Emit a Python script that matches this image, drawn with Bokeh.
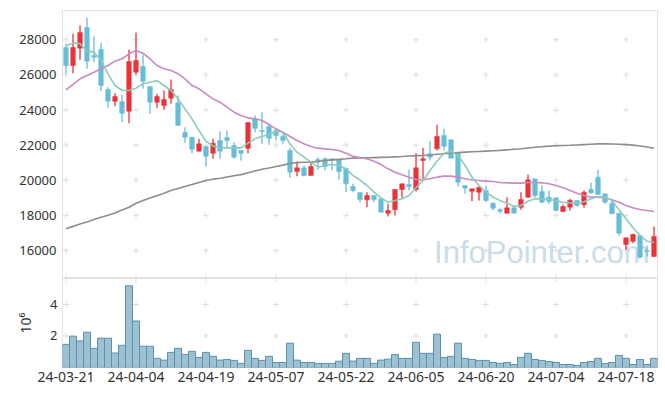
import pandas as pd
from bokeh.plotting import figure
from bokeh.layouts import column
from bokeh.models import ColumnDataSource, FixedTicker, Range1d
from bokeh.core.properties import value
from bokeh.embed import file_html
from bokeh.resources import INLINE

# ---------------- data ----------------
holidays = ["2024-04-10", "2024-05-01", "2024-05-06", "2024-05-15", "2024-06-06"]
dates = [d.strftime("%y-%m-%d") for d in pd.bdate_range("2024-03-21", "2024-07-24")
         if d.strftime("%Y-%m-%d") not in holidays]

opens = [27563, 26537, 27525, 28703, 27107, 27449, 25169, 24504, 24485, 23934,
         26157, 26480, 25340, 24447, 24257, 24675, 24409, 22718, 22452, 21654,
         21920, 21538, 22262, 22433, 21977, 21692, 21824, 23499, 22832, 23060,
         22832, 22490, 21692, 20496, 20707, 20268, 21180, 21219, 21219, 21180,
         20684, 19641, 19299, 18884, 19128, 18940, 18120, 18313, 19470, 19756,
         19470, 21123, 21504, 21789, 22547, 22302, 21538, 19698, 19373, 19316,
         19412, 18690, 18313, 18122, 18426, 18464, 19033, 20078, 19356, 19033,
         18995, 18217, 18464, 18844, 18597, 19470, 20173, 19223, 18692, 18122,
         16337, 16527, 16850, 15995, 15653]
highs = [27772, 28342, 28817, 29254, 28190, 27829, 25302, 24960, 24865, 27430,
         28418, 27164, 25340, 24922, 25112, 25739, 24827, 23022, 22452, 22357,
         21920, 22359, 22792, 22832, 22166, 21692, 23288, 23687, 23875, 23213,
         22928, 22735, 21846, 21066, 20838, 21066, 21312, 21312, 21219, 21180,
         20684, 19795, 19299, 19316, 19128, 18940, 18655, 19470, 19795, 20593,
         21538, 21846, 22222, 23157, 22928, 22302, 21538, 19698, 19510, 19601,
         19698, 18747, 18405, 19033, 18559, 19318, 20325, 20078, 19698, 19413,
         18995, 18616, 18939, 18844, 19413, 19850, 20591, 19223, 18844, 18122,
         16717, 16945, 16850, 16280, 17362]
lows = [26062, 26100, 26860, 26347, 26727, 25074, 24124, 24219, 23307, 23250,
        26024, 25207, 23782, 24124, 24010, 24352, 23117, 22129, 21540, 21654,
        20780, 21219, 21219, 21789, 21219, 21123, 21538, 22735, 22074, 22017,
        22262, 22074, 20137, 20228, 20228, 20268, 20593, 20553, 20553, 20023,
        19316, 19316, 18747, 18462, 18747, 18177, 17932, 17989, 18997, 19412,
        19356, 20080, 21123, 21692, 21692, 21254, 19641, 19225, 18804, 18843,
        18747, 18272, 18120, 18122, 18122, 18312, 18995, 18995, 18692, 18654,
        18236, 18179, 18274, 18502, 18426, 19223, 19185, 18654, 18084, 16850,
        16033, 16413, 15520, 15653, 15653]
closes = [26537, 27563, 28418, 26784, 27012, 25397, 24504, 24770, 23820, 26765,
          26822, 25644, 24447, 24770, 24599, 25169, 23117, 22452, 21768, 22072,
          21369, 22108, 21652, 22262, 21310, 21538, 23288, 22963, 22776, 22394,
          22547, 22262, 20456, 20707, 20268, 20781, 21026, 20781, 21123, 20496,
          19795, 19412, 18900, 19128, 18900, 18177, 18272, 19470, 19795, 19641,
          20707, 21219, 21312, 22490, 21937, 21254, 19886, 19544, 19510, 19601,
          18843, 18405, 18234, 18426, 18122, 18900, 20021, 19128, 18748, 18787,
          18274, 18502, 18844, 18559, 19318, 19280, 19185, 18749, 18084, 16983,
          16717, 16907, 15615, 15938, 16793]
volumes = [1470000, 1990000, 1690000, 2240000, 1220000, 1860000, 1860000, 920000, 1410000, 5190000,
           2950000, 1350000, 1350000, 580000, 470000, 960000, 1220000, 830000, 1030000, 640000,
           960000, 710000, 470000, 510000, 450000, 260000, 1090000, 580000, 450000, 710000,
           320000, 320000, 1540000, 470000, 320000, 320000, 260000, 260000, 260000, 400000,
           900000, 410000, 580000, 580000, 260000, 470000, 530000, 830000, 580000, 580000,
           1600000, 900000, 900000, 2120000, 640000, 710000, 1540000, 580000, 510000, 450000,
           450000, 320000, 260000, 320000, 190000, 640000, 900000, 510000, 450000, 380000,
           320000, 190000, 190000, 130000, 320000, 380000, 580000, 260000, 320000, 770000,
           580000, 190000, 510000, 190000, 580000]
ma5 = [27677, 27810, 27772, 27354, 27297, 26822, 26062, 25397, 25112, 25112,
       25245, 25492, 25587, 25682, 25397, 25112, 24637, 24067, 23497, 22832,
       22224, 21950, 21845, 21845, 21845, 21845, 22110, 22358, 22490, 22604,
       22775, 22737, 22073, 21598, 21313, 21028, 20744, 20838, 20895, 20838,
       20648, 20269, 20010, 19699, 19320, 18997, 18750, 18845, 18940, 19130,
       19566, 19984, 20554, 21086, 21541, 21655, 21408, 20839, 20174, 19699,
       19320, 19035, 18850, 18692, 18502, 18559, 18806, 18939, 18939, 18901,
       18844, 18749, 18711, 18692, 18768, 18939, 19072, 19034, 18844, 18312,
       17800, 17287, 16850, 16527, 16470]
ma20 = [25150, 25454, 25777, 25967, 26157, 26347, 26537, 26784, 26917, 27202,
        27392, 27240, 26917, 26537, 26347, 26252, 26062, 25777, 25397, 25207,
        24922, 24636, 24446, 24161, 23877, 23687, 23554, 23497, 23402, 23174,
        22927, 22737, 22490, 22262, 22073, 21921, 21826, 21788, 21750, 21693,
        21541, 21370, 21290, 21218, 21085, 20896, 20649, 20459, 20307, 20174,
        20041, 20022, 20079, 20174, 20231, 20231, 20174, 20079, 20022, 19984,
        19946, 19927, 19870, 19851, 19832, 19832, 19870, 19870, 19851, 19794,
        19699, 19566, 19414, 19262, 19129, 19034, 19034, 18996, 18882, 18749,
        18560, 18426, 18331, 18274, 18217]
ma120 = [17230, 17370, 17500, 17620, 17760, 17890, 18010, 18130, 18300, 18460,
         18690, 18840, 18980, 19120, 19260, 19410, 19530, 19640, 19750, 19870,
         19980, 20060, 20110, 20180, 20250, 20320, 20420, 20520, 20620, 20700,
         20780, 20860, 20950, 21000, 21020, 21030, 21080, 21120, 21160, 21190,
         21220, 21260, 21275, 21280, 21290, 21300, 21310, 21330, 21350, 21380,
         21400, 21410, 21440, 21480, 21510, 21540, 21570, 21600, 21620, 21640,
         21660, 21680, 21700, 21730, 21760, 21790, 21840, 21880, 21910, 21940,
         21960, 21975, 21990, 22010, 22030, 22050, 22070, 22070, 22060, 22050,
         22030, 22000, 21950, 21890, 21820]

tick_idx = [0, 10, 20, 30, 40, 50, 60, 70, 80]
tick_labels = ["24-03-21", "24-04-04", "24-04-19", "24-05-07", "24-05-22",
               "24-06-05", "24-06-20", "24-07-04", "24-07-18"]
price_ticks = [16000, 18000, 20000, 22000, 24000, 26000, 28000]
vol_ticks = [2000000, 4000000]
vol_tick_labels = ["2", "4"]
watermark = "InfoPointer.com"

# ---------------- styles ----------------
UP = "#ec3238"
DOWN = "#67bdd8"
FONT = "Noto Sans"
TXT = "#333333"
GRIDC = "#dddddd"
OUTLINE = "#e3e3e3"

idx = list(range(len(opens)))
src = ColumnDataSource(dict(
    x=idx, open=opens, high=highs, low=lows, close=closes,
    top=[max(o, c) for o, c in zip(opens, closes)],
    bottom=[min(o, c) for o, c in zip(opens, closes)],
    color=[UP if c > o else DOWN for o, c in zip(opens, closes)],
    ma5=ma5, ma20=ma20, ma120=ma120, vol=volumes, date=dates,
))

xr = Range1d(-0.5, len(idx) - 0.5)
yr = Range1d(14400, 29670)

# ---------------- price panel ----------------
p = figure(width=658, height=278, x_range=xr, y_range=yr,
           output_backend="svg", toolbar_location=None,
           min_border_left=62, min_border_right=1, min_border_top=10, min_border_bottom=0)
p.outline_line_color = OUTLINE
p.grid.visible = False
p.xaxis.visible = False
p.yaxis.ticker = FixedTicker(ticks=price_ticks)
p.yaxis.major_label_text_font = FONT
p.yaxis.major_label_text_font_size = "13px"
p.yaxis.major_label_text_color = TXT
p.yaxis.major_label_standoff = 6
p.yaxis.major_tick_out = 0
p.yaxis.major_tick_in = 0
p.yaxis.minor_tick_out = 0
p.yaxis.minor_tick_in = 0
p.yaxis.axis_line_color = None

gx = [t for t in tick_idx for _ in price_ticks]
gy = [v for _ in tick_idx for v in price_ticks]
p.scatter(gx, gy, marker="cross", size=6, line_color=GRIDC, line_width=1)
p.scatter(tick_idx, [yr.start] * len(tick_idx), marker="cross", size=8,
          line_color=GRIDC, line_width=1)

# watermark, drawn beneath the candles (centred 26 px above the frame bottom)
wm_y = yr.start + 26 * (yr.end - yr.start) / 268
p.text(x=[xr.end], y=[wm_y], text=[watermark],
       x_offset=-8, text_align="right", text_baseline="middle",
       text_font=value("Liberation Sans"), text_font_size="31px",
       text_color="#c3d8e5", text_alpha=0.9)

p.segment(x0="x", y0="low", x1="x", y1="high", source=src, line_color="color", line_width=1.3)
p.vbar(x="x", width=0.66, top="top", bottom="bottom", source=src,
       fill_color="color", line_color="color", line_width=0.5)

p.line("x", "ma120", source=src, line_color="#8e8e8e", line_width=1.6)
p.line("x", "ma20", source=src, line_color="#c98ac4", line_width=1.6)
p.line("x", "ma5", source=src, line_color="#8ccbbb", line_width=1.6)

# ---------------- volume panel ----------------
pv = figure(width=658, height=117, x_range=xr, y_range=Range1d(0, 5650000),
            output_backend="svg", toolbar_location=None,
            min_border_left=62, min_border_right=1, min_border_top=0, min_border_bottom=28)
pv.outline_line_color = OUTLINE
pv.grid.visible = False

vx = [t for t in tick_idx for _ in vol_ticks]
vy = [v for _ in tick_idx for v in vol_ticks]
pv.scatter(vx, vy, marker="cross", size=6, line_color=GRIDC, line_width=1)
pv.scatter(tick_idx, [pv.y_range.end] * len(tick_idx), marker="cross", size=8,
           line_color=GRIDC, line_width=1)

pv.vbar(x="x", width=1.0, top="vol", bottom=0, source=src,
        fill_color="#9bc1d2", line_color="#5e90a9", line_width=1)

pv.yaxis.ticker = FixedTicker(ticks=vol_ticks)
pv.yaxis.major_label_overrides = {t: l for t, l in zip(vol_ticks, vol_tick_labels)}
pv.yaxis.axis_label = "10\u2076"
pv.yaxis.axis_label_text_font = FONT
pv.yaxis.axis_label_text_font_style = "normal"
pv.yaxis.axis_label_text_font_size = "14px"
pv.yaxis.axis_label_text_color = TXT
pv.yaxis.axis_label_standoff = 12
pv.yaxis.major_label_text_font = FONT
pv.yaxis.major_label_text_font_size = "13px"
pv.yaxis.major_label_text_color = TXT
pv.yaxis.major_label_standoff = 5
pv.yaxis.major_tick_out = 0
pv.yaxis.major_tick_in = 0
pv.yaxis.minor_tick_out = 0
pv.yaxis.minor_tick_in = 0
pv.yaxis.axis_line_color = None

pv.xaxis.ticker = FixedTicker(ticks=tick_idx)
pv.xaxis.major_label_overrides = {t: l for t, l in zip(tick_idx, tick_labels)}
pv.xaxis.major_label_text_font = FONT
pv.xaxis.major_label_text_font_size = "14px"
pv.xaxis.major_label_text_color = TXT
pv.xaxis.major_label_standoff = 4
pv.xaxis.major_tick_out = 0
pv.xaxis.major_tick_in = 0
pv.xaxis.minor_tick_out = 0
pv.xaxis.minor_tick_in = 0
pv.xaxis.axis_line_color = None

layout = column(p, pv, spacing=0)
open("out.html", "w").write(file_html(layout, INLINE))
